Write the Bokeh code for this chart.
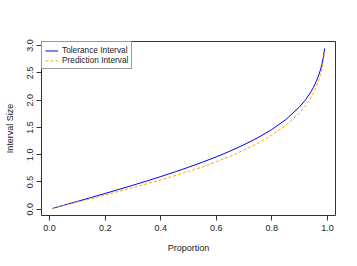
from bokeh.plotting import figure
from bokeh.models import Range1d, FixedTicker, Legend, LegendItem
from bokeh.embed import file_html
from bokeh.resources import INLINE

# Data
proportion = [0.01, 0.05, 0.10, 0.15, 0.20, 0.25, 0.30, 0.35, 0.40, 0.45, 0.50,
              0.55, 0.60, 0.65, 0.70, 0.75, 0.80, 0.85, 0.90, 0.92, 0.94, 0.95,
              0.96, 0.97, 0.975, 0.98, 0.985, 0.99]
tolerance = [0.014, 0.072, 0.143, 0.216, 0.289, 0.364, 0.440, 0.518, 0.598, 0.682, 0.770,
             0.862, 0.960, 1.066, 1.183, 1.312, 1.462, 1.642, 1.877, 1.998, 2.146, 2.236,
             2.343, 2.476, 2.557, 2.654, 2.775, 2.945]
prediction = [0.013, 0.065, 0.129, 0.194, 0.260, 0.328, 0.396, 0.466, 0.538, 0.614, 0.693,
              0.776, 0.870, 0.968, 1.085, 1.210, 1.360, 1.535, 1.770, 1.890, 2.040, 2.130,
              2.240, 2.380, 2.470, 2.570, 2.700, 2.870]

x_ticks = [0.0, 0.2, 0.4, 0.6, 0.8, 1.0]
x_tick_labels = ["0.0", "0.2", "0.4", "0.6", "0.8", "1.0"]
y_ticks = [0.0, 0.5, 1.0, 1.5, 2.0, 2.5, 3.0]
y_tick_labels = ["0.0", "0.5", "1.0", "1.5", "2.0", "2.5", "3.0"]

FONT = "Liberation Sans"

p = figure(width=357, height=266,
           x_range=Range1d(-0.0292, 1.0292), y_range=Range1d(-0.115, 3.075),
           output_backend="svg", toolbar_location=None,
           min_border_left=41, min_border_right=22,
           min_border_top=41, min_border_bottom=51)

p.background_fill_color = "white"
p.border_fill_color = "white"
p.outline_line_color = "#333333"
p.outline_line_width = 1
p.xgrid.visible = False
p.ygrid.visible = False

r1 = p.line(proportion, tolerance, line_color="blue", line_width=1)
r2 = p.line(proportion, prediction, line_color="orange", line_width=1, line_dash="3 2")

for ax, ticks, labels in ((p.xaxis[0], x_ticks, x_tick_labels), (p.yaxis[0], y_ticks, y_tick_labels)):
    ax.ticker = FixedTicker(ticks=ticks)
    ax.major_label_overrides = {t: l for t, l in zip(ticks, labels)}
    ax.minor_tick_line_color = None
    ax.major_tick_in = 0
    ax.major_tick_out = 5
    ax.major_tick_line_color = "#333333"
    ax.axis_line_color = None
    ax.major_label_text_font = FONT
    ax.major_label_text_font_size = "9px"
    ax.major_label_text_color = "#222222"
    ax.axis_label_text_font = FONT
    ax.axis_label_text_font_size = "9px"
    ax.axis_label_text_font_style = "normal"
    ax.axis_label_text_color = "#222222"

p.xaxis.axis_label = "Proportion"
p.xaxis.major_label_standoff = 4
p.xaxis.axis_label_standoff = 9
p.yaxis.axis_label = "Interval Size"
p.yaxis.major_label_orientation = "vertical"
p.yaxis.major_label_standoff = 3
p.yaxis.axis_label_standoff = 10

legend = Legend(items=[LegendItem(label="Tolerance Interval", renderers=[r1]),
                       LegendItem(label="Prediction Interval", renderers=[r2])],
                location="top_left", margin=0, padding=3, spacing=-3,
                glyph_width=13, glyph_height=7, label_height=7, label_standoff=4,
                label_text_font=FONT, label_text_font_size="8.3px",
                label_text_line_height=0.9, label_text_color="#222222",
                border_line_color="#333333", border_line_width=1,
                background_fill_alpha=1.0)
p.add_layout(legend)

open("out.html", "w").write(file_html(p, INLINE))
